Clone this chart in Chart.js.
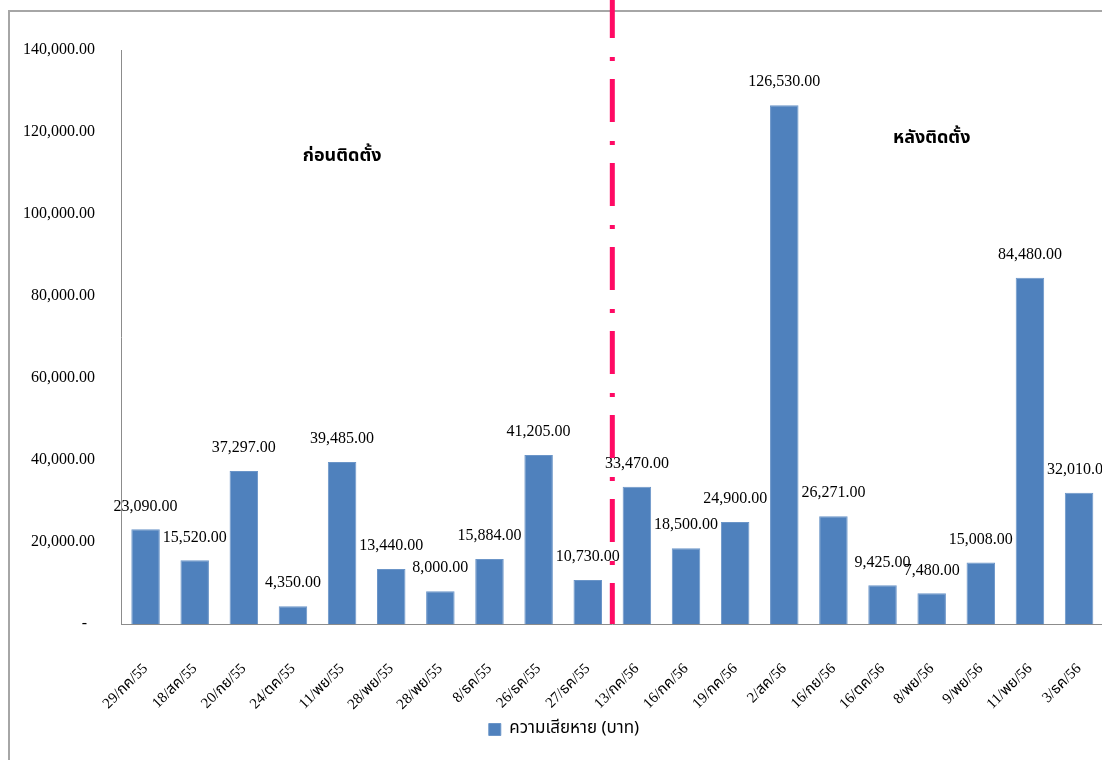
<!DOCTYPE html>
<html>
<head>
<meta charset="utf-8">
<script src="https://cdn.jsdelivr.net/npm/chart.js@4"></script>
<style>
  body { margin: 0; overflow: hidden; background: #fff; }
  #wrap { position: relative; width: 1128px; height: 760px; }
  #frame { position: absolute; left: 8px; top: 10px; width: 1200px; height: 900px;
           border-top: 2px solid #a6a6a6; border-left: 2px solid #a6a6a6; }
  #myChart { position: absolute; left: 0; top: 0; }
</style>
</head>
<body>
<div id="wrap">
  <div id="frame"></div>
  <canvas id="myChart" width="1128" height="760"></canvas>
</div>
<script>
'use strict';

// ข้อมูล
const dates = ['29/กค/55', '18/สค/55', '20/กย/55', '24/ตค/55', '11/พย/55', '28/พย/55', '28/พย/55',
  '8/ธค/55', '26/ธค/55', '27/ธค/55', '13/กค/56', '16/กค/56', '19/กค/56', '2/สค/56', '16/กย/56',
  '16/ตค/56', '8/พย/56', '9/พย/56', '11/พย/56', '3/ธค/56'];
const damage = [23090, 15520, 37297, 4350, 39485, 13440, 8000, 15884, 41205, 10730,
  33470, 18500, 24900, 126530, 26271, 9425, 7480, 15008, 84480, 32010];
const seriesName = 'ความเสียหาย (บาท)';
const yTicks = [0, 20000, 40000, 60000, 80000, 100000, 120000, 140000];
const splitAfter = 9;   // last index before installation
const notes = ['ก่อนติดตั้ง', 'หลังติดตั้ง'];
const noteIndex = [4, 16];
const noteValue = [113700, 118100];

const serif = '"Liberation Serif", "Times New Roman", "Noto Sans Thai", serif';
const thai = 'Tahoma, "Noto Sans Thai", "DejaVu Sans", "Noto Sans", sans-serif';

function money(v) {
  return v.toLocaleString('en-US', { minimumFractionDigits: 2, maximumFractionDigits: 2 });
}

// ป้ายตัวเลขบนแท่ง
const barLabels = {
  id: 'barLabels',
  afterDatasetsDraw(chart) {
    const ctx = chart.ctx;
    ctx.save();
    ctx.font = '16px ' + serif;
    ctx.fillStyle = '#000';
    ctx.textAlign = 'center';
    ctx.textBaseline = 'middle';
    chart.getDatasetMeta(0).data.forEach(function(bar, i) {
      ctx.fillText(money(damage[i]), bar.x, bar.y - 23);
    });
    ctx.restore();
  }
};

// เส้นแบ่ง ก่อน/หลัง ติดตั้ง + ข้อความ
const divider = {
  id: 'divider',
  afterDatasetsDraw(chart) {
    const ctx = chart.ctx;
    const x = chart.scales.x;
    const y = chart.scales.y;
    const lineX = (x.getPixelForValue(splitAfter) + x.getPixelForValue(splitAfter + 1)) / 2;
    ctx.save();
    ctx.strokeStyle = '#ff0a64';
    ctx.lineWidth = 5;
    ctx.setLineDash([43, 19, 4, 18]);
    ctx.beginPath();
    ctx.moveTo(lineX, -5);
    ctx.lineTo(lineX, chart.chartArea.bottom);
    ctx.stroke();
    ctx.setLineDash([]);
    ctx.font = 'bold 18px ' + thai;
    ctx.fillStyle = '#000';
    ctx.textAlign = 'center';
    ctx.textBaseline = 'middle';
    notes.forEach(function(t, i) {
      ctx.fillText(t, x.getPixelForValue(noteIndex[i]), y.getPixelForValue(noteValue[i]));
    });
    ctx.restore();
  }
};

const ctx = document.getElementById('myChart').getContext('2d');

const chart = new Chart(ctx, {
  type: 'bar',
  data: {
    labels: dates,
    datasets: [{
      label: seriesName,
      data: damage,
      backgroundColor: '#4f81bd',
      borderColor: '#6b95c8',
      borderWidth: 1,
      barPercentage: 0.58,
      categoryPercentage: 1.0
    }]
  },
  options: {
    responsive: false,
    animation: false,
    layout: { padding: { left: 8, top: 50, right: 8, bottom: 12 } },
    plugins: {
      tooltip: { enabled: false },
      legend: {
        position: 'bottom',
        labels: {
          boxWidth: 12,
          boxHeight: 12,
          padding: 10,
          color: '#000',
          font: { family: thai, size: 17 }
        }
      }
    },
    scales: {
      x: {
        grid: { display: false, drawTicks: false },
        border: { display: true, color: '#8c8c8c', width: 1 },
        ticks: {
          autoSkip: false,
          minRotation: 45,
          maxRotation: 45,
          padding: 36,
          color: '#000',
          font: { family: serif, size: 15 }
        },
        afterFit: function(scale) { scale.height = 87; }
      },
      y: {
        min: 0,
        max: 140000,
        grid: { display: false, drawTicks: false },
        border: { display: true, color: '#8c8c8c', width: 1 },
        afterBuildTicks: function(scale) {
          scale.ticks = yTicks.map(function(v) { return { value: v }; });
        },
        ticks: {
          padding: 26,
          color: '#000',
          font: { family: serif, size: 16 },
          callback: function(v) { return v === 0 ? '-  ' : money(v); }
        },
        afterFit: function(scale) { scale.width = 113; }
      }
    }
  },
  plugins: [barLabels, divider]
});
</script>
</body>
</html>
